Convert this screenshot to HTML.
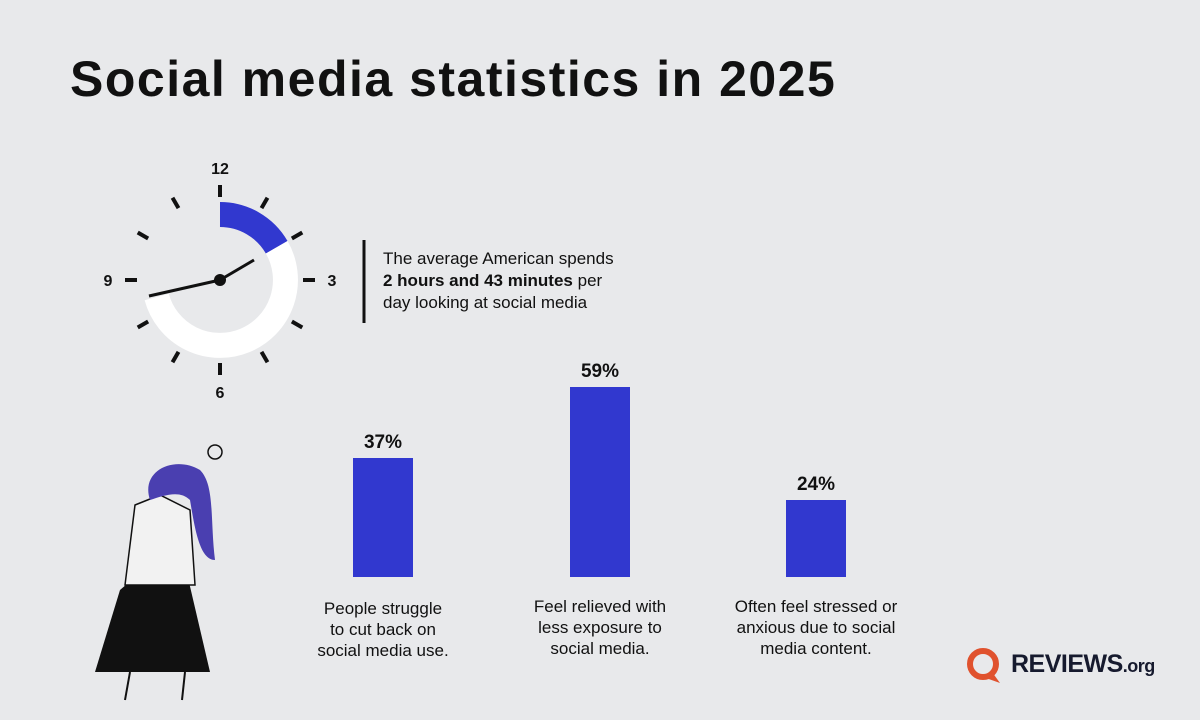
<!DOCTYPE html>
<html><head><meta charset="utf-8"><style>
body{margin:0;width:1200px;height:720px;background:#e8e9eb;font-family:"Liberation Sans",sans-serif;position:relative;overflow:hidden;color:#111}
.t{position:absolute}
h1{position:absolute;left:70px;top:50px;margin:0;font-size:50px;font-weight:bold;letter-spacing:1.5px;color:#111}
.bar{position:absolute;background:#3138cf;width:60px}
.pct{position:absolute;width:100px;text-align:center;font-weight:bold;font-size:19px}
.lab{position:absolute;width:220px;text-align:center;font-size:17px;line-height:21px}
</style></head><body>
<h1>Social media statistics in 2025</h1>
<svg width="1200" height="720" style="position:absolute;left:0;top:0">
<g transform="translate(220,280)">
<path d="M0,-65.5 A65.5,65.5 0 0 1 56.7,-32.75" fill="none" stroke="#3138cf" stroke-width="25"/>
<path d="M56.7,-32.75 A65.5,65.5 0 1 1 -63.3,17" fill="none" stroke="#fff" stroke-width="25"/>
<g stroke="#111" stroke-width="4">
<line x1="0" y1="-83" x2="0" y2="-95" transform="rotate(0)"/>
<line x1="0" y1="-83" x2="0" y2="-95" transform="rotate(30)"/>
<line x1="0" y1="-83" x2="0" y2="-95" transform="rotate(60)"/>
<line x1="0" y1="-83" x2="0" y2="-95" transform="rotate(90)"/>
<line x1="0" y1="-83" x2="0" y2="-95" transform="rotate(120)"/>
<line x1="0" y1="-83" x2="0" y2="-95" transform="rotate(150)"/>
<line x1="0" y1="-83" x2="0" y2="-95" transform="rotate(180)"/>
<line x1="0" y1="-83" x2="0" y2="-95" transform="rotate(210)"/>
<line x1="0" y1="-83" x2="0" y2="-95" transform="rotate(240)"/>
<line x1="0" y1="-83" x2="0" y2="-95" transform="rotate(270)"/>
<line x1="0" y1="-83" x2="0" y2="-95" transform="rotate(300)"/>
<line x1="0" y1="-83" x2="0" y2="-95" transform="rotate(330)"/>
</g>
<line x1="0" y1="0" x2="-71" y2="16" stroke="#111" stroke-width="3"/>
<line x1="0" y1="0" x2="34" y2="-20" stroke="#111" stroke-width="3"/>
<circle r="6" fill="#111"/>
<g font-weight="bold" font-size="16" text-anchor="middle" fill="#111">
<text x="0" y="-106">12</text><text x="112" y="6">3</text><text x="0" y="118">6</text><text x="-112" y="6">9</text>
</g>
</g>
<line x1="364" y1="240" x2="364" y2="323" stroke="#111" stroke-width="3"/>
<path d="M120,590 L155,560 L185,565 L210,672 L95,672 Z" fill="#111"/>
<path d="M135,505 L160,495 L190,510 L195,585 L125,585 Z" fill="#f2f2f2" stroke="#111" stroke-width="1.5"/>
<path d="M150,500 C140,470 175,455 200,470 C215,485 210,520 215,560 C200,560 195,530 190,500 C180,490 165,495 150,500 Z" fill="#4a3fb0"/>
<circle cx="215" cy="452" r="7" fill="none" stroke="#111" stroke-width="1.5"/>
<line x1="185" y1="672" x2="182" y2="700" stroke="#111" stroke-width="2"/>
<line x1="130" y1="672" x2="125" y2="700" stroke="#111" stroke-width="2"/>
<circle cx="983" cy="664" r="13" fill="none" stroke="#e0522e" stroke-width="6"/>
<path d="M983,677 L1000,683 L992,672 Z" fill="#e0522e"/>
</svg>
<div class="t" style="left:383px;top:248px;font-size:17px;line-height:22px">The average American spends<br><b>2 hours and 43 minutes</b> per<br>day looking at social media</div>
<div class="bar" style="left:353px;top:458px;height:119px"></div>
<div class="bar" style="left:570px;top:387px;height:190px"></div>
<div class="bar" style="left:786px;top:500px;height:77px"></div>
<div class="pct" style="left:333px;top:432px">37%</div>
<div class="pct" style="left:550px;top:361px">59%</div>
<div class="pct" style="left:766px;top:474px">24%</div>
<div class="lab" style="left:273px;top:598px">People struggle<br>to cut back on<br>social media use.</div>
<div class="lab" style="left:490px;top:596px">Feel relieved with<br>less exposure to<br>social media.</div>
<div class="lab" style="left:706px;top:596px">Often feel stressed or<br>anxious due to social<br>media content.</div>
<div class="t" style="left:1011px;top:650px;font-size:25px;font-weight:bold;color:#161a2e;letter-spacing:-0.5px">REVIEWS<span style="font-size:18px">.org</span></div>
</body></html>
